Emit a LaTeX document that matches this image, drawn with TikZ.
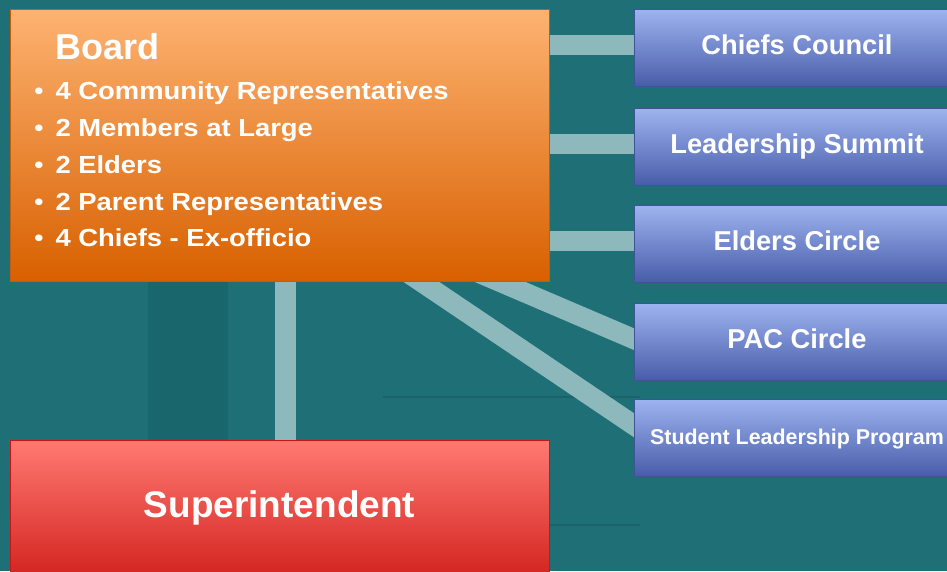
\documentclass[tikz,border=0pt]{standalone}
\usepackage{fontspec}
\setmainfont{Liberation Sans}
\newfontfamily\stretchfont{Liberation Sans}[FakeStretch=1.11]
\usetikzlibrary{calc,backgrounds}
\definecolor{bgteal}{HTML}{1F6F76}
\definecolor{bgdark}{HTML}{1A666D}
\definecolor{bgstreak}{HTML}{195F66}
\definecolor{conncol}{HTML}{8EB9BC}
\definecolor{boardT}{HTML}{FDB372}
\definecolor{boardB}{HTML}{D86000}
\definecolor{boardE}{HTML}{C85A08}
\definecolor{blueT}{HTML}{9EB4F0}
\definecolor{blueB}{HTML}{485DA9}
\definecolor{blueE}{HTML}{3F5496}
\definecolor{redT}{HTML}{FF7A72}
\definecolor{redB}{HTML}{CC1512}
\tikzset{
  conn/.style={draw=conncol, line width=20pt},
  boardbox/.style={top color=boardT, bottom color=boardB, draw=boardE, line width=0.8pt, inner sep=0pt},
  bluebox/.style={top color=blueT, bottom color=blueB, draw=blueE, line width=0.8pt, inner sep=0pt,
    minimum width=326pt, text height=45pt, text depth=32pt, text=white,
    font=\fontsize{27.3}{30}\selectfont\bfseries},
  supbox/.style={top color=redT, bottom color=redB, draw=redB, line width=0.8pt, inner sep=0pt,
    minimum width=539pt, text height=77pt, text depth=83pt, text=white,
    font=\fontsize{37}{40}\selectfont\bfseries},
  titletext/.style={anchor=base west, inner sep=0pt, text=white, font=\fontsize{36}{40}\selectfont\bfseries},
  itemtext/.style={anchor=base west, inner sep=0pt, text=white, font=\fontsize{24.7}{28}\stretchfont\bfseries},
}
\newcommand{\itemdot}{\makebox[21.3pt][l]{\fontsize{24.7}{28}\selectfont\mdseries •}}
\begin{document}
\begin{tikzpicture}[x=1pt,y=1pt]
\useasboundingbox (0,0) rectangle (947,-571);
% boxes
\node[boardbox, minimum width=539pt, minimum height=272pt] (board) at (279.5,-145) {};
\node[titletext] (title) at (55,-59) {Board};
\node[itemtext] (i1) at (34,-99.3) {\itemdot 4 Community Representatives};
\node[itemtext] (i2) at (34,-136.5) {\itemdot 2 Members at Large};
\node[itemtext] (i3) at (34,-173.3) {\itemdot 2 Elders};
\node[itemtext] (i4) at (34,-210.5) {\itemdot 2 Parent Representatives};
\node[itemtext] (i5) at (34,-246.7) {\itemdot 4 Chiefs - Ex-officio};

\node[bluebox] (cc)  at (797,-47.5)  {Chiefs Council};
\node[bluebox] (ls)  at (797,-146.5) {Leadership Summit};
\node[bluebox] (ec)  at (797,-243.5) {Elders Circle};
\node[bluebox] (pac) at (797,-341.5) {PAC Circle};
\node[bluebox, font=\fontsize{21.4}{24}\selectfont\bfseries] (slp) at (797,-437.5) {Student Leadership Program};

\node[supbox] (sup) at (279.5,-520) {Superintendent};

\coordinate (hub) at (285,-190);
\coordinate (pacend) at ($(pac.west)+(0,2.5)$);
\coordinate (slpend) at ($(slp.west)+(0,12.5)$);

\begin{scope}[on background layer]
  \fill[bgteal] (0,0) rectangle (947,-571);
  \fill[bgdark] (148,-281) rectangle (228,-440);
  \draw[bgstreak, line width=2.5pt, opacity=0.7] (383,-397) -- (640,-397);
  \draw[bgstreak, line width=2.5pt, opacity=0.7] (548,-525) -- (640,-525);
  % connectors
  \draw[conn] ($(board.east|-cc.west)+(0,3)$) -- ($(cc.west)+(0,3)$);
  \draw[conn] ($(board.east|-ls.west)+(0,2.5)$) -- ($(ls.west)+(0,2.5)$);
  \draw[conn] ($(board.east|-ec.west)+(0,2.5)$) -- ($(ec.west)+(0,2.5)$);
  \draw[conn] (hub) -- ($(hub)!1.1!(pacend)$);
  \draw[conn] (hub) -- ($(hub)!1.1!(slpend)$);
  \draw[conn, line width=21pt] (hub) -- (hub|-sup.north);
\end{scope}
\end{tikzpicture}
\end{document}
